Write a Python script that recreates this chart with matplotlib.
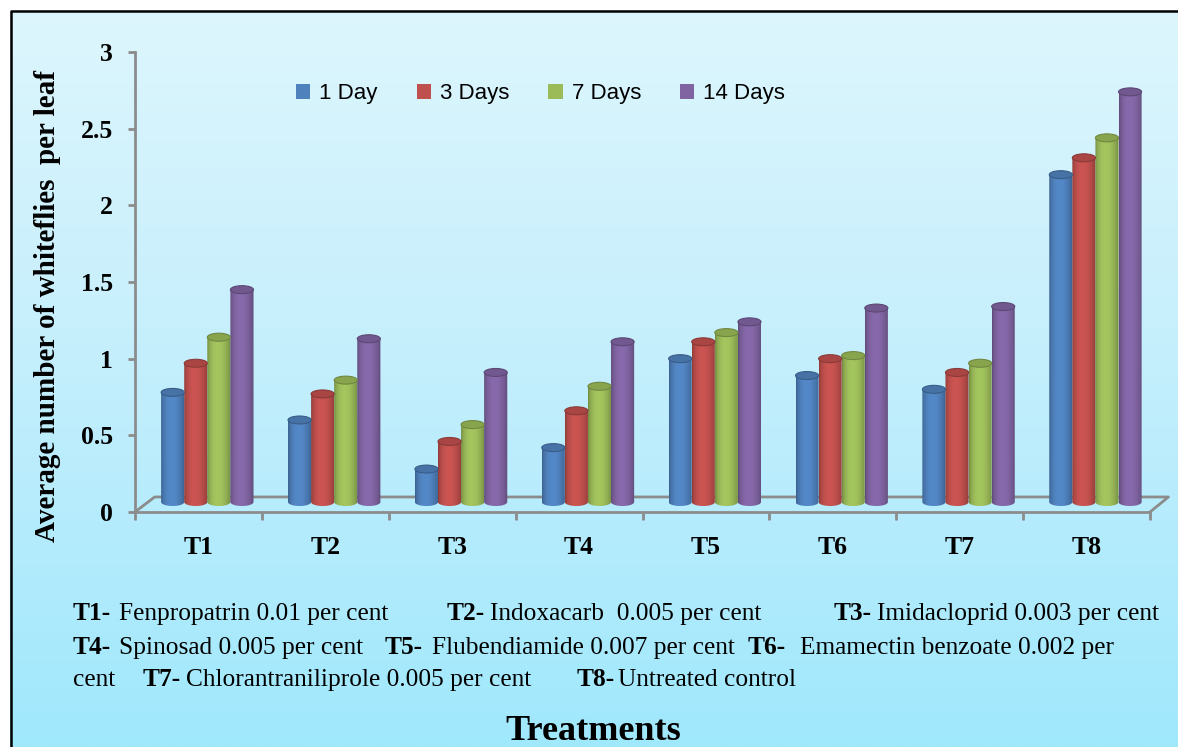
import matplotlib
matplotlib.use("Agg")
import matplotlib.pyplot as plt
import numpy as np
from matplotlib.patches import Ellipse, PathPatch, Patch
from matplotlib.path import Path
from matplotlib.colors import to_rgb, LinearSegmentedColormap

# whitefly counts per leaf after spraying
treatments = ["T1", "T2", "T3", "T4", "T5", "T6", "T7", "T8"]
series = ["1 Day", "3 Days", "7 Days", "14 Days"]
day1 = [0.78, 0.60, 0.28, 0.42, 1.00, 0.89, 0.80, 2.20]
day3 = [0.97, 0.77, 0.46, 0.66, 1.11, 1.00, 0.91, 2.31]
day7 = [1.14, 0.86, 0.57, 0.82, 1.17, 1.02, 0.97, 2.44]
day14 = [1.45, 1.13, 0.91, 1.11, 1.24, 1.33, 1.34, 2.74]
colors = ["#4f81bd", "#c0504d", "#9bbb59", "#8064a2"]

yticks = [0, 0.5, 1, 1.5, 2, 2.5, 3]
ytick_labels = ["0", "0.5", "1", "1.5", "2", "2.5", "3"]

# footnote lines: (text, bold, x pixel)
notes = [
    [("T1-", True, 73), ("Fenpropatrin 0.01 per cent", False, 119),
     ("T2-", True, 447), ("Indoxacarb  0.005 per cent", False, 490),
     ("T3-", True, 834), ("Imidacloprid 0.003 per cent", False, 877)],
    [("T4-", True, 73), ("Spinosad 0.005 per cent", False, 119),
     ("T5-", True, 385), ("Flubendiamide 0.007 per cent", False, 432),
     ("T6-", True, 748), ("Emamectin benzoate 0.002 per", False, 800)],
    [("cent", False, 73), ("T7-", True, 143),
     ("Chlorantraniliprole 0.005 per cent", False, 186),
     ("T8-", True, 577), ("Untreated control", False, 618)],
]
note_baselines = [620, 654, 686]

W, H = 1178, 747
SERIF = "Liberation Serif"
GRID = "#8c8c8c"

fig = plt.figure(figsize=(W / 100, H / 100), dpi=100)
fig.patch.set_facecolor("white")

# gradient background inside the black frame
bg = fig.add_axes([0, 0, 1, 1])
bg.set_xlim(0, W)
bg.set_ylim(H, 0)
bg.axis("off")
grad_cmap = LinearSegmentedColormap.from_list(
    "bg", [(0, "#ddf6fd"), (0.45, "#c6effc"), (1, "#a0e8fd")])
grad = np.linspace(0, 1, 256).reshape(-1, 1)
bg.imshow(grad, cmap=grad_cmap, extent=[10, W, H, 10], aspect="auto",
          interpolation="bilinear")
bg.plot([10.5, 10.5, W], [H, 10.5, 10.5], color="black", lw=1.8,
        solid_capstyle="butt")


def px(x, y):
    return x / W, 1 - y / H


x0, x1 = 135, 1150
y_top, y_zero = 52, 512
ax = fig.add_axes([x0 / W, 1 - y_zero / H, (x1 - x0) / W, (y_zero - y_top) / H])
ax.patch.set_alpha(0)
ax.set_xlim(-0.5, 7.5)
ax.set_ylim(0, 3)

for s in ["top", "right"]:
    ax.spines[s].set_visible(False)
for s in ["left", "bottom"]:
    ax.spines[s].set_color(GRID)
    ax.spines[s].set_linewidth(2)

ax.set_yticks(yticks)
ax.set_yticklabels(ytick_labels, fontfamily=SERIF, fontweight="bold", fontsize=18.5)
ax.tick_params(axis="y", direction="out", length=5, width=2, color=GRID, pad=11)

ax.set_xticks(np.arange(-0.5, 8, 1))
ax.set_xticklabels([])
ax.set_xticks(np.arange(8), minor=True)
ax.set_xticklabels(treatments, minor=True, fontfamily=SERIF,
                   fontweight="bold", fontsize=18.5)
ax.tick_params(axis="x", which="major", direction="out", length=6, width=2,
               color=GRID)
ax.tick_params(axis="x", which="minor", length=0, pad=17)

# 3-D floor outline
fdx, fdy = 0.155, 0.098
ax.plot([-0.5, -0.5 + fdx, 7.5 + fdx - 0.01, 7.5], [0, fdy, fdy, 0],
        color=GRID, lw=2, clip_on=False, zorder=1)

# cylinder bars
bar_w = 0.182
shift = 0.07
base = 0.065
cap_h = 0.052
t = np.linspace(0, 1, 64)
shade = 0.72 + 0.34 * np.sin(np.pi * t ** 0.85) ** 0.7

for j, (vals, c) in enumerate(zip([day1, day3, day7, day14], colors)):
    rgb = np.array(to_rgb(c))
    body = np.clip(shade[:, None] * rgb[None, :], 0, 1)[None, :, :]
    for i, v in enumerate(vals):
        xc = i + shift + (j - 1.5) * bar_w
        xl, xr = xc - bar_w / 2, xc + bar_w / 2
        ang = np.linspace(np.pi, 2 * np.pi, 30)
        arc = np.column_stack([xc + bar_w / 2 * np.cos(ang),
                               base + cap_h / 2 * np.sin(ang)])
        verts = np.vstack([[xl, v], arc, [xr, v], [xl, v]])
        clip = PathPatch(Path(verts), transform=ax.transData,
                         facecolor="none", edgecolor="none")
        ax.add_patch(clip)
        im = ax.imshow(body, extent=[xl, xr, base - cap_h, v], aspect="auto",
                       interpolation="bilinear", zorder=2 + j * 0.01)
        im.set_clip_path(clip)
        ax.add_patch(Ellipse((xc, v), bar_w, cap_h,
                             facecolor=np.clip(rgb * 0.88, 0, 1),
                             edgecolor=np.clip(rgb * 0.72, 0, 1), lw=0.8,
                             zorder=2.5 + j * 0.01))

ax.set_xlim(-0.5, 7.5)
ax.set_ylim(0, 3)

handles = [Patch(facecolor=c, edgecolor="none") for c in colors]
ax.legend(handles, series, loc="upper left", ncol=4, frameon=False,
          bbox_to_anchor=px(296, 83), bbox_transform=fig.transFigure,
          prop={"family": "Liberation Sans", "size": 16},
          handlelength=0.65, handleheight=0.65, handletextpad=0.4,
          columnspacing=1.75, borderpad=0, borderaxespad=0)

fig.text(*px(48, 306), "Average number of whiteflies  per leaf", rotation=90,
         ha="center", va="center", fontfamily=SERIF, fontweight="bold",
         fontsize=21)

for line, yb in zip(notes, note_baselines):
    for txt, bold, xs in line:
        fig.text(*px(xs, yb), txt, ha="left", va="baseline", fontfamily=SERIF,
                 fontweight="bold" if bold else "normal", fontsize=18.3)

fig.text(*px(593, 740), "Treatments", ha="center", va="baseline",
         fontfamily=SERIF, fontweight="bold", fontsize=26)

fig.savefig("out.png", dpi=100)
